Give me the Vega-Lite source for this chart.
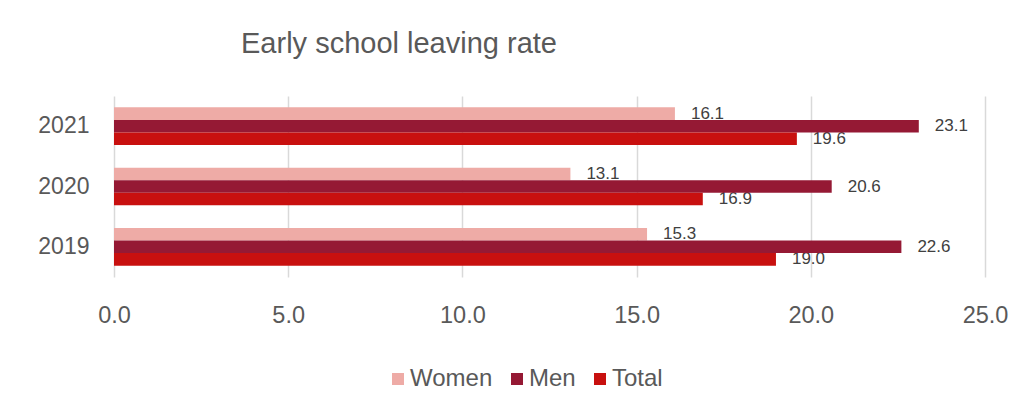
{
  "$schema": "https://vega.github.io/schema/vega-lite/v6.json",
  "width": 871,
  "height": 181,
  "autosize": {"type": "none"},
  "padding": {"left": 114, "top": 96, "right": 43, "bottom": 134},
  "background": "white",
  "title": {
    "text": "Early school leaving rate",
    "anchor": "start",
    "frame": "group",
    "dx": 127,
    "offset": 14,
    "baseline": "alphabetic",
    "fontSize": 29,
    "font": "Liberation Sans",
    "fontWeight": "normal",
    "color": "#595959"
  },
  "data": {
    "values": [
      {"year": "2021", "sex": "Women", "value": 16.1},
      {"year": "2021", "sex": "Men", "value": 23.1},
      {"year": "2021", "sex": "Total", "value": 19.6},
      {"year": "2020", "sex": "Women", "value": 13.1},
      {"year": "2020", "sex": "Men", "value": 20.6},
      {"year": "2020", "sex": "Total", "value": 16.9},
      {"year": "2019", "sex": "Women", "value": 15.3},
      {"year": "2019", "sex": "Men", "value": 22.6},
      {"year": "2019", "sex": "Total", "value": 19.0}
    ]
  },
  "encoding": {
    "y": {
      "field": "year",
      "type": "nominal",
      "sort": "descending",
      "scale": {"paddingInner": 0.375, "paddingOuter": 0.1875},
      "axis": {
        "title": null,
        "domain": false,
        "ticks": false,
        "grid": false,
        "labelFontSize": 23,
        "labelColor": "#595959",
        "labelPadding": 25
      }
    },
    "yOffset": {
      "field": "sex",
      "type": "nominal",
      "sort": ["Women", "Men", "Total"],
      "scale": {"paddingInner": 0, "paddingOuter": 0}
    },
    "x": {
      "field": "value",
      "type": "quantitative",
      "scale": {"domain": [0, 25]},
      "axis": {
        "title": null,
        "values": [0, 5, 10, 15, 20, 25],
        "format": ".1f",
        "grid": true,
        "gridColor": "#D9D9D9",
        "gridWidth": 1.5,
        "domain": false,
        "ticks": false,
        "tickSize": 0,
        "labelFlush": false,
        "labelFontSize": 23.5,
        "labelColor": "#595959",
        "labelPadding": 26
      }
    }
  },
  "layer": [
    {
      "mark": {"type": "text", "align": "left", "baseline": "middle", "dx": 16, "fontSize": 17, "font": "Liberation Sans", "color": "#404040"},
      "encoding": {"text": {"field": "value", "type": "quantitative", "format": ".1f"}}
    },
    {
      "mark": {"type": "bar"},
      "encoding": {
        "color": {
          "field": "sex",
          "type": "nominal",
          "scale": {"domain": ["Women", "Men", "Total"], "range": ["#EEABA6", "#951934", "#C8100F"]},
          "legend": {
            "title": null,
            "orient": "none",
            "legendX": 272,
            "legendY": 271,
            "direction": "horizontal",
            "symbolType": "square",
            "symbolSize": 144,
            "symbolStrokeWidth": 0,
            "labelFontSize": 24,
            "labelColor": "#595959",
            "labelOffset": 0,
            "columnPadding": 12
          }
        }
      }
    }
  ],
  "config": {"font": "Liberation Sans", "view": {"stroke": null}}
}
